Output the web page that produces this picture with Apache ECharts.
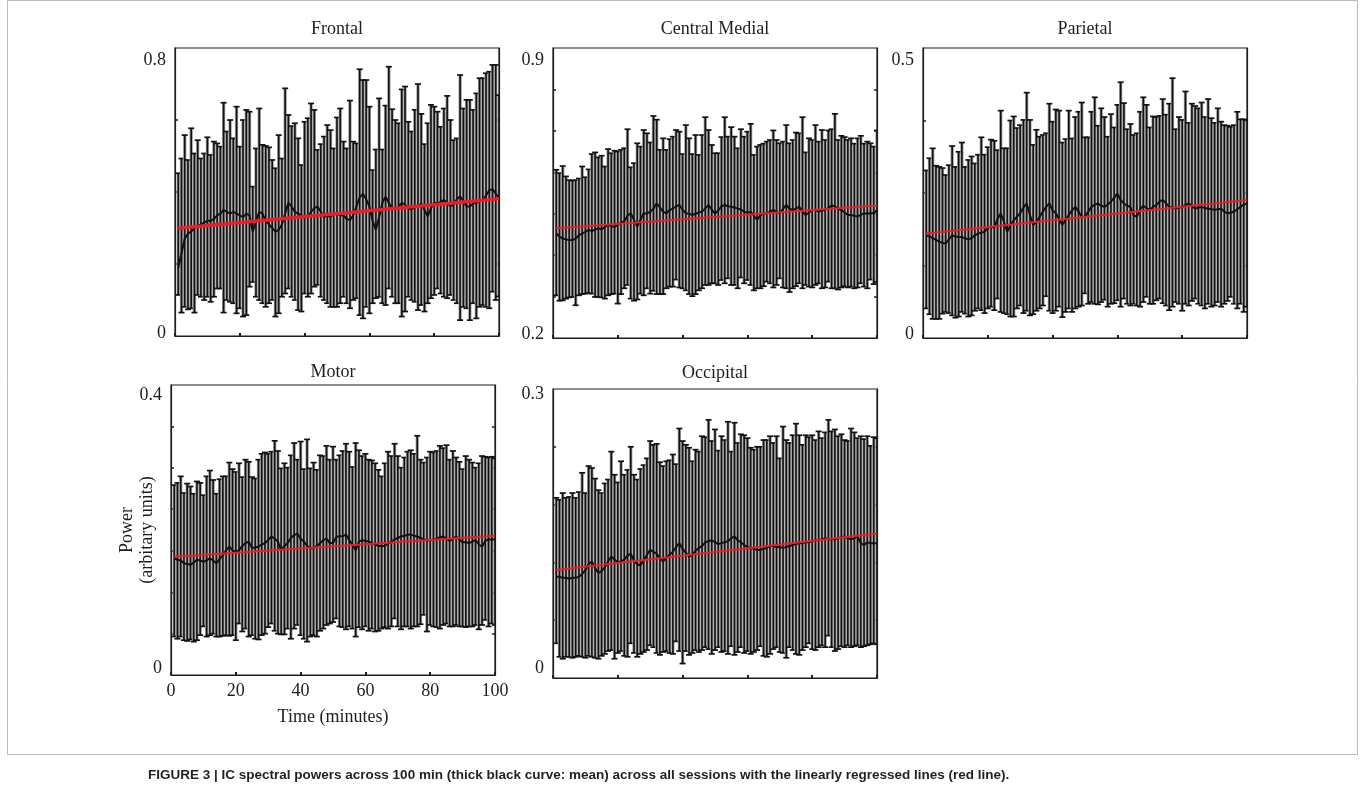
<!DOCTYPE html>
<html>
<head>
<meta charset="utf-8">
<title>IC spectral powers across 100 min</title>
<script src="https://cdn.jsdelivr.net/npm/echarts@6/dist/echarts.min.js"></script>
<style>
  html, body { margin: 0; padding: 0; background: #fff; }
  #chart { width: 1360px; height: 790px; }
</style>
</head>
<body>
<div id="chart"></div>
<script>
// ---- data, one bar per minute 1..100 ----
const frontalUpper = [
  0.452, 0.493, 0.558, 0.489, 0.577, 0.507, 0.544, 0.493, 0.507, 0.552,
  0.503, 0.540, 0.535, 0.526, 0.648, 0.568, 0.600, 0.549, 0.637, 0.526,
  0.600, 0.628, 0.623, 0.415, 0.521, 0.632, 0.531, 0.528, 0.524, 0.489,
  0.466, 0.558, 0.493, 0.688, 0.614, 0.583, 0.591, 0.549, 0.475, 0.595,
  0.605, 0.646, 0.628, 0.517, 0.533, 0.554, 0.586, 0.572, 0.521, 0.607,
  0.632, 0.540, 0.521, 0.654, 0.540, 0.535, 0.741, 0.711, 0.711, 0.637,
  0.461, 0.518, 0.660, 0.518, 0.640, 0.748, 0.630, 0.600, 0.591, 0.685,
  0.693, 0.595, 0.568, 0.628, 0.700, 0.617, 0.533, 0.591, 0.642, 0.637,
  0.623, 0.581, 0.632, 0.667, 0.600, 0.544, 0.549, 0.725, 0.632, 0.656,
  0.656, 0.628, 0.674, 0.716, 0.716, 0.730, 0.734, 0.753, 0.753, 0.669
];
const frontalLower = [
  0.114, 0.065, 0.081, 0.074, 0.077, 0.065, 0.114, 0.109, 0.100, 0.109,
  0.095, 0.109, 0.132, 0.132, 0.065, 0.100, 0.095, 0.091, 0.063, 0.077,
  0.054, 0.058, 0.137, 0.150, 0.109, 0.100, 0.091, 0.081, 0.091, 0.100,
  0.054, 0.063, 0.109, 0.118, 0.132, 0.109, 0.100, 0.072, 0.068, 0.118,
  0.109, 0.118, 0.137, 0.142, 0.109, 0.100, 0.091, 0.081, 0.081, 0.081,
  0.091, 0.109, 0.091, 0.077, 0.100, 0.105, 0.058, 0.049, 0.081, 0.063,
  0.091, 0.105, 0.109, 0.091, 0.086, 0.132, 0.109, 0.091, 0.091, 0.054,
  0.068, 0.109, 0.100, 0.095, 0.072, 0.086, 0.068, 0.091, 0.105, 0.114,
  0.132, 0.118, 0.109, 0.105, 0.114, 0.100, 0.091, 0.044, 0.081, 0.077,
  0.044, 0.091, 0.049, 0.081, 0.086, 0.081, 0.077, 0.123, 0.100, 0.110
];
const frontalMean = [
  0.190, 0.230, 0.270, 0.285, 0.290, 0.300, 0.305, 0.310, 0.315, 0.320,
  0.320, 0.325, 0.335, 0.340, 0.350, 0.345, 0.340, 0.345, 0.340, 0.335,
  0.330, 0.340, 0.335, 0.290, 0.320, 0.345, 0.340, 0.320, 0.310, 0.300,
  0.290, 0.295, 0.310, 0.340, 0.370, 0.360, 0.345, 0.340, 0.335, 0.330,
  0.330, 0.345, 0.355, 0.360, 0.345, 0.330, 0.335, 0.330, 0.340, 0.340,
  0.335, 0.335, 0.325, 0.322, 0.335, 0.360, 0.385, 0.395, 0.380, 0.360,
  0.320, 0.295, 0.330, 0.370, 0.387, 0.370, 0.355, 0.352, 0.360, 0.370,
  0.365, 0.355, 0.352, 0.358, 0.360, 0.368, 0.350, 0.332, 0.355, 0.370,
  0.368, 0.372, 0.378, 0.370, 0.360, 0.365, 0.380, 0.388, 0.375, 0.360,
  0.360, 0.368, 0.370, 0.375, 0.378, 0.390, 0.405, 0.408, 0.395, 0.385
];
const frontalFit = [0.299, 0.381];

const centralUpper = [
  0.606, 0.598, 0.615, 0.590, 0.581, 0.580, 0.581, 0.585, 0.614, 0.588,
  0.607, 0.644, 0.648, 0.636, 0.640, 0.614, 0.656, 0.646, 0.652, 0.650,
  0.654, 0.658, 0.704, 0.612, 0.622, 0.670, 0.662, 0.702, 0.694, 0.672,
  0.736, 0.727, 0.654, 0.682, 0.654, 0.680, 0.686, 0.702, 0.698, 0.644,
  0.714, 0.682, 0.644, 0.690, 0.642, 0.690, 0.733, 0.702, 0.666, 0.646,
  0.646, 0.685, 0.733, 0.686, 0.709, 0.686, 0.658, 0.704, 0.686, 0.698,
  0.717, 0.642, 0.662, 0.666, 0.669, 0.674, 0.678, 0.701, 0.678, 0.670,
  0.674, 0.714, 0.670, 0.678, 0.696, 0.694, 0.733, 0.648, 0.682, 0.678,
  0.714, 0.674, 0.702, 0.678, 0.701, 0.704, 0.741, 0.678, 0.688, 0.685,
  0.678, 0.682, 0.669, 0.682, 0.688, 0.669, 0.674, 0.670, 0.662, 0.701
];
const centralLower = [
  0.303, 0.290, 0.291, 0.295, 0.298, 0.299, 0.279, 0.303, 0.306, 0.307,
  0.309, 0.307, 0.299, 0.299, 0.298, 0.295, 0.303, 0.306, 0.307, 0.283,
  0.306, 0.320, 0.328, 0.295, 0.290, 0.293, 0.307, 0.303, 0.320, 0.307,
  0.314, 0.306, 0.306, 0.306, 0.320, 0.324, 0.324, 0.341, 0.322, 0.320,
  0.315, 0.306, 0.301, 0.306, 0.315, 0.320, 0.328, 0.328, 0.332, 0.332,
  0.328, 0.340, 0.332, 0.344, 0.328, 0.328, 0.320, 0.346, 0.332, 0.340,
  0.328, 0.315, 0.320, 0.320, 0.325, 0.336, 0.332, 0.322, 0.328, 0.344,
  0.322, 0.320, 0.311, 0.320, 0.325, 0.332, 0.320, 0.328, 0.324, 0.322,
  0.328, 0.332, 0.320, 0.322, 0.336, 0.320, 0.320, 0.317, 0.322, 0.325,
  0.322, 0.324, 0.320, 0.322, 0.332, 0.324, 0.320, 0.341, 0.330, 0.335
];
const centralMean = [
  0.452, 0.445, 0.440, 0.438, 0.437, 0.436, 0.440, 0.448, 0.452, 0.456,
  0.461, 0.458, 0.462, 0.465, 0.462, 0.468, 0.473, 0.470, 0.468, 0.473,
  0.478, 0.482, 0.495, 0.501, 0.485, 0.469, 0.485, 0.501, 0.500, 0.505,
  0.512, 0.525, 0.515, 0.505, 0.501, 0.509, 0.512, 0.518, 0.521, 0.510,
  0.501, 0.500, 0.497, 0.500, 0.503, 0.505, 0.513, 0.521, 0.510, 0.500,
  0.508, 0.518, 0.521, 0.518, 0.517, 0.515, 0.513, 0.510, 0.505, 0.502,
  0.505, 0.495, 0.485, 0.497, 0.500, 0.501, 0.505, 0.509, 0.505, 0.501,
  0.512, 0.521, 0.512, 0.509, 0.512, 0.517, 0.505, 0.497, 0.503, 0.509,
  0.509, 0.505, 0.508, 0.509, 0.514, 0.520, 0.518, 0.512, 0.509, 0.503,
  0.497, 0.497, 0.495, 0.493, 0.497, 0.501, 0.500, 0.501, 0.501, 0.509
];
const centralFit = [0.465, 0.520];

const parietalUpper = [
  0.289, 0.310, 0.327, 0.297, 0.295, 0.293, 0.281, 0.298, 0.331, 0.295,
  0.321, 0.337, 0.295, 0.307, 0.313, 0.301, 0.316, 0.346, 0.316, 0.329,
  0.342, 0.340, 0.324, 0.392, 0.327, 0.327, 0.375, 0.382, 0.362, 0.367,
  0.376, 0.423, 0.376, 0.333, 0.359, 0.347, 0.350, 0.353, 0.404, 0.373,
  0.394, 0.392, 0.337, 0.343, 0.392, 0.344, 0.381, 0.390, 0.406, 0.346,
  0.346, 0.390, 0.415, 0.366, 0.396, 0.381, 0.347, 0.386, 0.363, 0.402,
  0.441, 0.405, 0.360, 0.369, 0.350, 0.353, 0.390, 0.415, 0.402, 0.363,
  0.382, 0.381, 0.383, 0.412, 0.385, 0.404, 0.448, 0.360, 0.381, 0.376,
  0.425, 0.371, 0.404, 0.400, 0.396, 0.406, 0.381, 0.412, 0.379, 0.371,
  0.396, 0.373, 0.367, 0.366, 0.364, 0.367, 0.390, 0.377, 0.377, 0.376
];
const parietalLower = [
  0.051, 0.041, 0.033, 0.033, 0.033, 0.042, 0.045, 0.043, 0.039, 0.035,
  0.037, 0.045, 0.042, 0.037, 0.039, 0.047, 0.051, 0.048, 0.043, 0.051,
  0.054, 0.048, 0.068, 0.045, 0.043, 0.041, 0.037, 0.037, 0.051, 0.056,
  0.043, 0.047, 0.039, 0.041, 0.047, 0.051, 0.056, 0.072, 0.047, 0.043,
  0.047, 0.054, 0.036, 0.045, 0.051, 0.045, 0.051, 0.054, 0.056, 0.077,
  0.059, 0.062, 0.059, 0.058, 0.062, 0.066, 0.054, 0.059, 0.060, 0.065,
  0.054, 0.068, 0.059, 0.056, 0.059, 0.056, 0.054, 0.062, 0.071, 0.059,
  0.059, 0.065, 0.068, 0.060, 0.056, 0.048, 0.054, 0.062, 0.059, 0.047,
  0.059, 0.056, 0.064, 0.068, 0.059, 0.056, 0.051, 0.059, 0.054, 0.056,
  0.062, 0.054, 0.059, 0.064, 0.071, 0.059, 0.051, 0.059, 0.045, 0.054
];
const parietalMean = [
  0.177, 0.175, 0.172, 0.169, 0.166, 0.164, 0.163, 0.170, 0.177, 0.175,
  0.174, 0.174, 0.172, 0.170, 0.172, 0.177, 0.180, 0.182, 0.183, 0.190,
  0.192, 0.190, 0.205, 0.215, 0.200, 0.183, 0.195, 0.203, 0.209, 0.215,
  0.225, 0.232, 0.212, 0.195, 0.200, 0.209, 0.218, 0.226, 0.232, 0.220,
  0.215, 0.205, 0.195, 0.203, 0.212, 0.220, 0.226, 0.218, 0.209, 0.209,
  0.218, 0.226, 0.230, 0.232, 0.228, 0.226, 0.230, 0.235, 0.242, 0.249,
  0.238, 0.232, 0.228, 0.226, 0.212, 0.209, 0.222, 0.228, 0.224, 0.221,
  0.226, 0.229, 0.235, 0.238, 0.232, 0.226, 0.225, 0.223, 0.225, 0.226,
  0.229, 0.232, 0.228, 0.223, 0.225, 0.226, 0.224, 0.223, 0.222, 0.221,
  0.222, 0.223, 0.218, 0.215, 0.216, 0.218, 0.222, 0.226, 0.230, 0.232
];
const parietalFit = [0.180, 0.238];

const motorUpper = [
  0.262, 0.265, 0.274, 0.251, 0.264, 0.260, 0.250, 0.267, 0.265, 0.248,
  0.274, 0.282, 0.269, 0.250, 0.270, 0.274, 0.274, 0.293, 0.284, 0.280,
  0.292, 0.273, 0.297, 0.294, 0.273, 0.271, 0.297, 0.305, 0.307, 0.305,
  0.308, 0.323, 0.309, 0.285, 0.292, 0.286, 0.303, 0.320, 0.297, 0.322,
  0.284, 0.325, 0.285, 0.293, 0.283, 0.303, 0.302, 0.316, 0.297, 0.315,
  0.297, 0.303, 0.309, 0.319, 0.308, 0.287, 0.320, 0.310, 0.302, 0.305,
  0.297, 0.296, 0.292, 0.283, 0.274, 0.292, 0.308, 0.302, 0.319, 0.302,
  0.286, 0.300, 0.308, 0.310, 0.305, 0.330, 0.297, 0.293, 0.300, 0.308,
  0.307, 0.309, 0.316, 0.313, 0.317, 0.297, 0.309, 0.300, 0.294, 0.284,
  0.302, 0.297, 0.293, 0.286, 0.292, 0.302, 0.301, 0.300, 0.301, 0.299
];
const motorLower = [
  0.053, 0.050, 0.053, 0.048, 0.047, 0.049, 0.046, 0.048, 0.055, 0.067,
  0.053, 0.055, 0.057, 0.053, 0.053, 0.054, 0.055, 0.054, 0.055, 0.048,
  0.071, 0.060, 0.064, 0.053, 0.055, 0.050, 0.049, 0.055, 0.057, 0.066,
  0.071, 0.061, 0.057, 0.056, 0.056, 0.064, 0.050, 0.064, 0.069, 0.055,
  0.050, 0.046, 0.053, 0.055, 0.053, 0.061, 0.064, 0.069, 0.071, 0.073,
  0.078, 0.067, 0.066, 0.063, 0.067, 0.064, 0.053, 0.066, 0.063, 0.067,
  0.061, 0.064, 0.060, 0.061, 0.064, 0.066, 0.064, 0.067, 0.078, 0.067,
  0.063, 0.067, 0.067, 0.064, 0.067, 0.067, 0.070, 0.083, 0.060, 0.069,
  0.067, 0.066, 0.064, 0.069, 0.071, 0.067, 0.067, 0.069, 0.067, 0.067,
  0.066, 0.067, 0.067, 0.069, 0.063, 0.069, 0.076, 0.067, 0.071, 0.069
];
const motorMean = [
  0.161, 0.159, 0.158, 0.154, 0.153, 0.152, 0.155, 0.159, 0.158, 0.156,
  0.158, 0.161, 0.158, 0.154, 0.160, 0.165, 0.172, 0.177, 0.172, 0.170,
  0.172, 0.178, 0.182, 0.184, 0.175, 0.176, 0.177, 0.180, 0.182, 0.186,
  0.191, 0.188, 0.184, 0.172, 0.178, 0.182, 0.189, 0.193, 0.195, 0.188,
  0.184, 0.178, 0.175, 0.175, 0.178, 0.182, 0.186, 0.188, 0.182, 0.182,
  0.190, 0.192, 0.191, 0.194, 0.186, 0.180, 0.172, 0.184, 0.186, 0.185,
  0.184, 0.182, 0.180, 0.178, 0.178, 0.178, 0.181, 0.184, 0.187, 0.189,
  0.191, 0.192, 0.193, 0.194, 0.192, 0.191, 0.189, 0.187, 0.186, 0.185,
  0.187, 0.188, 0.190, 0.191, 0.188, 0.185, 0.188, 0.191, 0.187, 0.183,
  0.183, 0.182, 0.184, 0.186, 0.180, 0.177, 0.185, 0.187, 0.187, 0.187
];
const motorFit = [0.163, 0.192];

const occipitalUpper = [
  0.187, 0.185, 0.192, 0.187, 0.188, 0.192, 0.187, 0.193, 0.213, 0.192,
  0.220, 0.218, 0.207, 0.195, 0.192, 0.202, 0.206, 0.235, 0.211, 0.203,
  0.225, 0.211, 0.216, 0.240, 0.211, 0.206, 0.217, 0.221, 0.228, 0.246,
  0.242, 0.243, 0.224, 0.220, 0.225, 0.226, 0.232, 0.222, 0.259, 0.246,
  0.242, 0.239, 0.225, 0.237, 0.235, 0.251, 0.250, 0.268, 0.246, 0.258,
  0.236, 0.251, 0.247, 0.266, 0.235, 0.265, 0.244, 0.253, 0.252, 0.249,
  0.239, 0.237, 0.240, 0.240, 0.247, 0.247, 0.251, 0.244, 0.251, 0.228,
  0.261, 0.247, 0.244, 0.252, 0.264, 0.252, 0.242, 0.252, 0.250, 0.252,
  0.247, 0.256, 0.249, 0.255, 0.268, 0.256, 0.258, 0.251, 0.253, 0.247,
  0.246, 0.259, 0.255, 0.249, 0.251, 0.248, 0.251, 0.241, 0.250, 0.249
];
const occipitalLower = [
  0.036, 0.022, 0.020, 0.022, 0.022, 0.021, 0.022, 0.023, 0.022, 0.021,
  0.023, 0.022, 0.021, 0.020, 0.023, 0.025, 0.028, 0.029, 0.020, 0.026,
  0.028, 0.023, 0.022, 0.036, 0.026, 0.022, 0.025, 0.027, 0.029, 0.034,
  0.032, 0.026, 0.024, 0.027, 0.028, 0.026, 0.025, 0.038, 0.028, 0.015,
  0.028, 0.024, 0.026, 0.029, 0.027, 0.029, 0.032, 0.030, 0.025, 0.029,
  0.032, 0.027, 0.028, 0.025, 0.033, 0.024, 0.027, 0.032, 0.026, 0.028,
  0.025, 0.027, 0.029, 0.033, 0.023, 0.022, 0.025, 0.030, 0.032, 0.027,
  0.026, 0.021, 0.032, 0.029, 0.025, 0.024, 0.029, 0.032, 0.036, 0.030,
  0.029, 0.032, 0.034, 0.032, 0.044, 0.032, 0.028, 0.030, 0.033, 0.032,
  0.034, 0.032, 0.033, 0.034, 0.032, 0.033, 0.034, 0.035, 0.036, 0.035
];
const occipitalMean = [
  0.105, 0.105, 0.104, 0.104, 0.103, 0.104, 0.104, 0.105, 0.108, 0.112,
  0.118, 0.121, 0.114, 0.109, 0.111, 0.115, 0.121, 0.126, 0.123, 0.120,
  0.121, 0.123, 0.127, 0.129, 0.122, 0.118, 0.117, 0.122, 0.128, 0.133,
  0.131, 0.129, 0.124, 0.121, 0.125, 0.128, 0.131, 0.136, 0.140, 0.134,
  0.130, 0.126, 0.128, 0.132, 0.135, 0.137, 0.141, 0.142, 0.143, 0.141,
  0.139, 0.140, 0.141, 0.142, 0.145, 0.147, 0.143, 0.141, 0.138, 0.136,
  0.135, 0.134, 0.133, 0.133, 0.134, 0.135, 0.137, 0.137, 0.136, 0.136,
  0.135, 0.136, 0.137, 0.138, 0.139, 0.140, 0.140, 0.141, 0.141, 0.142,
  0.143, 0.143, 0.144, 0.145, 0.144, 0.144, 0.144, 0.145, 0.146, 0.147,
  0.145, 0.144, 0.145, 0.147, 0.140, 0.138, 0.141, 0.140, 0.140, 0.140
];
const occipitalFit = [0.112, 0.150];

// axis ranges and tick positions
const frontalRange = [0, 0.8];
const centralRange = [0.2, 0.9];
const parietalRange = [0, 0.5];
const motorRange = [0, 0.4];
const occipitalRange = [0, 0.3];
const frontalTicks = [0.2, 0.4, 0.6];
const centralTicks = [0.3, 0.4, 0.5, 0.6, 0.7, 0.8];
const parietalTicks = [0.125, 0.25, 0.375];
const motorTicks = [0.057, 0.114, 0.171, 0.229, 0.286, 0.343];
const occipitalTicks = [0.06, 0.12, 0.18, 0.24];
const timeTicks = [0, 20, 40, 60, 80, 100];

const minutes = frontalUpper.map((_, i) => i + 1);

const SERIF = 'Liberation Serif';
const INK = '#1d1d1d';

const panels = [
  { name: 'Frontal', upper: frontalUpper, lower: frontalLower, mean: frontalMean, fit: frontalFit,
    range: frontalRange, ticks: frontalTicks, box: [175, 48, 324, 288], fitWidth: 3.5, shift: [12, 3], titleGap: 28 },
  { name: 'Central Medial', upper: centralUpper, lower: centralLower, mean: centralMean, fit: centralFit,
    range: centralRange, ticks: centralTicks, box: [553, 48, 324, 290], fitWidth: 2, shift: [12, 4], titleGap: 28 },
  { name: 'Parietal', upper: parietalUpper, lower: parietalLower, mean: parietalMean, fit: parietalFit,
    range: parietalRange, ticks: parietalTicks, box: [923, 48, 324, 290], fitWidth: 2, shift: [12, 4], titleGap: 28 },
  { name: 'Motor', upper: motorUpper, lower: motorLower, mean: motorMean, fit: motorFit,
    range: motorRange, ticks: motorTicks, box: [171, 385, 324, 290], fitWidth: 2, shift: [10, 7], titleGap: 22, showX: true },
  { name: 'Occipital', upper: occipitalUpper, lower: occipitalLower, mean: occipitalMean, fit: occipitalFit,
    range: occipitalRange, ticks: occipitalTicks, box: [553, 389, 324, 289], fitWidth: 2, shift: [5, 10], titleGap: 25 }
];

function renderErrorBar(params, api) {
  const x = api.value(0);
  const top = api.coord([x, api.value(2)]);
  const bot = api.coord([x, api.value(1)]);
  const w = api.size([1, 0])[0];
  const cap = 3;
  return {
    type: 'group',
    children: [
      { type: 'rect', shape: { x: top[0] - w / 2, y: top[1], width: w, height: bot[1] - top[1] },
        style: { fill: '#9c9c9c' } },
      { type: 'line', shape: { x1: top[0], y1: top[1], x2: bot[0], y2: bot[1] },
        style: { stroke: '#111', lineWidth: 1.6 } },
      { type: 'line', shape: { x1: top[0] - cap, y1: top[1], x2: top[0] + cap, y2: top[1] },
        style: { stroke: '#111', lineWidth: 1.7 } },
      { type: 'line', shape: { x1: bot[0] - cap, y1: bot[1], x2: bot[0] + cap, y2: bot[1] },
        style: { stroke: '#111', lineWidth: 1.7 } }
    ]
  };
}

const grid = [], xAxis = [], yAxis = [], series = [], title = [];

panels.forEach((p, i) => {
  const [left, top, width, height] = p.box;
  grid.push({ left, top, width, height, show: true, borderColor: INK, borderWidth: 1.2 });
  title.push({
    text: p.name, left: left + width / 2, top: top - p.titleGap, textAlign: 'center', padding: 0,
    textStyle: { fontFamily: SERIF, fontSize: 18, fontWeight: 'normal', color: INK }
  });
  xAxis.push({
    gridIndex: i, type: 'value', min: 0, max: 100, interval: 20,
    axisLine: { show: true, lineStyle: { color: INK, width: 1.2 } },
    axisTick: { show: true, inside: true, length: 3, lineStyle: { color: INK, width: 2 } },
    axisLabel: { show: !!p.showX, customValues: timeTicks, fontFamily: SERIF, fontSize: 18, color: INK, margin: 7 },
    splitLine: { show: false },
    name: p.showX ? 'Time (minutes)' : '', nameLocation: 'middle', nameGap: 33,
    nameTextStyle: { fontFamily: SERIF, fontSize: 18, color: INK }
  });
  const [lo, hi] = p.range;
  const [sTop, sBot] = p.shift;
  yAxis.push({
    gridIndex: i, type: 'value', min: lo, max: hi,
    axisLine: { show: true, lineStyle: { color: INK, width: 1.2 } },
    axisTick: { show: true, inside: true, length: 3, customValues: p.ticks, lineStyle: { color: INK, width: 1.5 } },
    axisLabel: {
      customValues: p.range, margin: 9, color: INK, fontFamily: SERIF, fontSize: 18,
      formatter: v => (v === hi ? '{t|' + v + '}' : '{b|' + v + '}'),
      rich: {
        t: { padding: [sTop * 2, 0, 0, 0], fontFamily: SERIF, fontSize: 18, color: INK },
        b: { padding: [0, 0, sBot * 2, 0], fontFamily: SERIF, fontSize: 18, color: INK }
      }
    },
    splitLine: { show: false },
    name: p.showX ? 'Power\n(arbitary units)' : '', nameLocation: 'middle', nameGap: 14,
    nameMoveOverlap: false,
    nameTextStyle: { fontFamily: SERIF, fontSize: 18, color: INK, lineHeight: 20 }
  });
  yAxis.push({
    gridIndex: i, type: 'value', min: lo, max: hi, position: 'right',
    axisLine: { show: true, lineStyle: { color: INK, width: 1.2 } },
    axisTick: { show: true, inside: true, length: 3, customValues: p.ticks, lineStyle: { color: INK, width: 1.5 } },
    axisLabel: { show: false },
    splitLine: { show: false }
  });

  series.push({
    type: 'custom', xAxisIndex: i, yAxisIndex: 2 * i, clip: true, z: 2,
    renderItem: renderErrorBar,
    encode: { x: 0, y: [1, 2] },
    data: minutes.map((m, k) => [m, p.lower[k], p.upper[k]])
  });
  series.push({
    type: 'line', xAxisIndex: i, yAxisIndex: 2 * i, z: 3, showSymbol: false, silent: true,
    lineStyle: { color: '#111', width: 2 },
    data: minutes.map((m, k) => [m, p.mean[k]])
  });
  series.push({
    type: 'line', xAxisIndex: i, yAxisIndex: 2 * i, z: 4, showSymbol: false, silent: true,
    lineStyle: { color: '#ee1c24', width: p.fitWidth },
    data: [[1, p.fit[0]], [100, p.fit[1]]]
  });
});

const chart = echarts.init(document.getElementById('chart'), null, { renderer: 'canvas' });
chart.setOption({
  animation: false,
  backgroundColor: '#ffffff',
  title,
  grid,
  xAxis,
  yAxis,
  series,
  graphic: [
    { type: 'rect', left: 5, top: -2, shape: { width: 1350, height: 754 },
      style: { fill: 'none', stroke: '#b9b9b9', lineWidth: 1 }, z: 0 },
    { type: 'text', left: 148, top: 768,
      style: {
        text: 'FIGURE 3 | IC spectral powers across 100 min (thick black curve: mean) across all sessions with the linearly regressed lines (red line).',
        fontFamily: 'Liberation Sans', fontWeight: 'bold', fontSize: 13.5, fill: '#231f20'
      } }
  ]
});
window.addEventListener('resize', () => chart.resize());
</script>
</body>
</html>
